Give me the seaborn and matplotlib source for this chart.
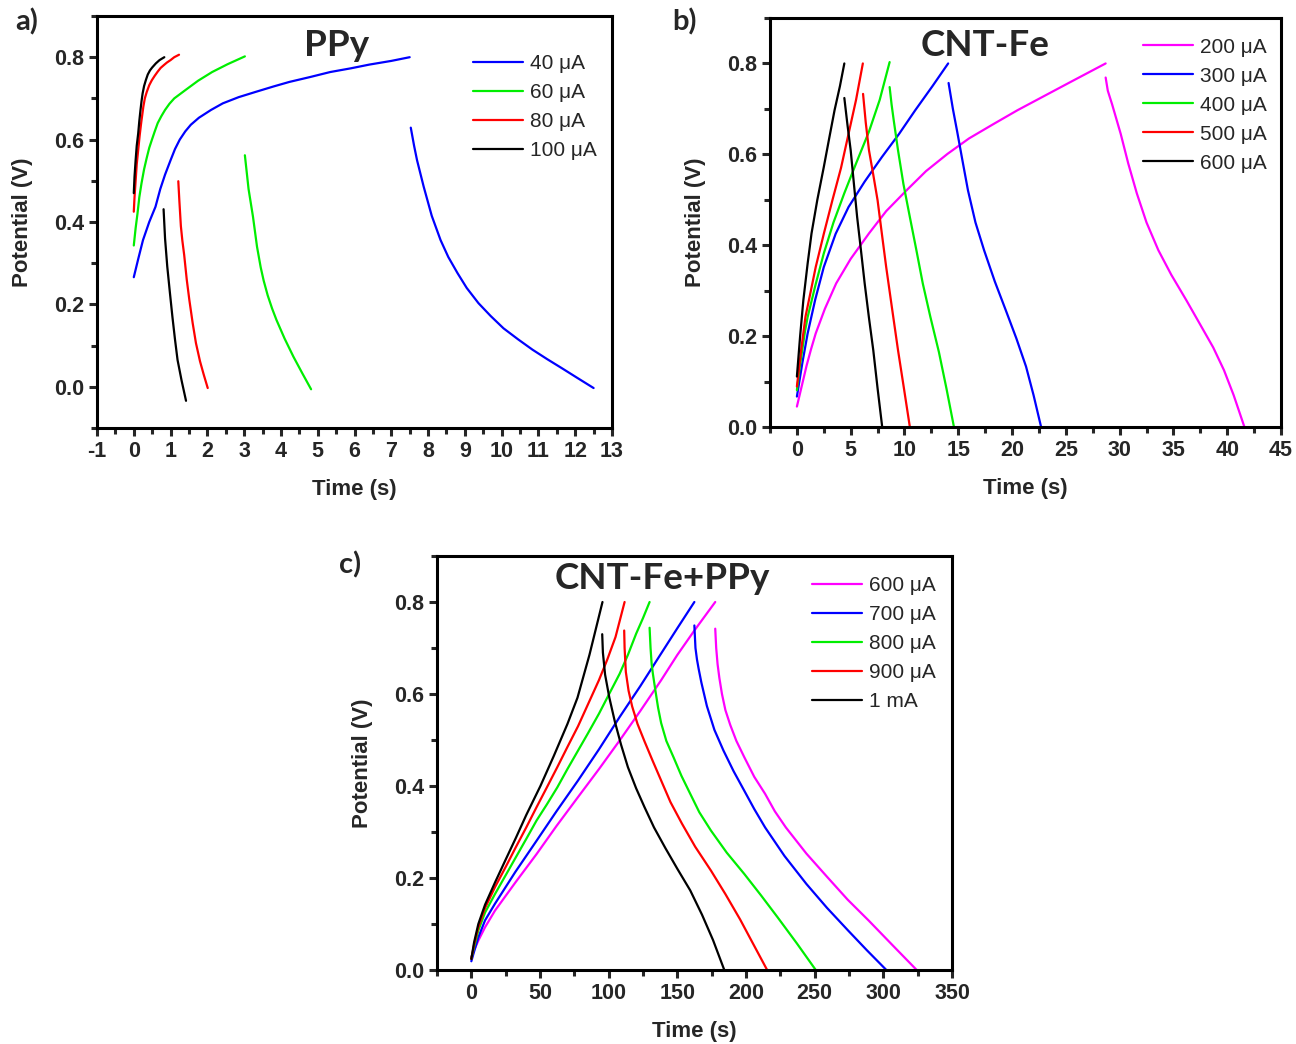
import matplotlib
matplotlib.use("Agg")
import numpy as np
import pandas as pd
import matplotlib.pyplot as plt
import seaborn as sns
from matplotlib.ticker import MultipleLocator, FormatStrFormatter

# ---------------- Panel a: PPy ----------------
A_LABELS = ["40 μA", "60 μA", "80 μA", "100 μA"]
A_COLORS = ["#0000FF", "#00EE00", "#FF0000", "#000000"]

A40_CH_T = [0.0, 0.12, 0.25, 0.42, 0.59, 0.72, 0.85, 1.0, 1.12, 1.25, 1.4, 1.55, 1.77, 2.1, 2.42, 2.85,
            3.32, 3.8, 4.23, 4.8, 5.34, 5.9, 6.4, 7.0, 7.5]
A40_CH_V = [0.266, 0.31, 0.356, 0.40, 0.437, 0.48, 0.515, 0.55, 0.577, 0.60, 0.62, 0.636, 0.653, 0.672,
            0.688, 0.703, 0.716, 0.729, 0.740, 0.752, 0.764, 0.773, 0.782, 0.791, 0.80]
A40_DC_T = [7.53, 7.62, 7.7, 7.88, 8.1, 8.34, 8.55, 8.8, 9.05, 9.37, 9.7, 10.05, 10.45, 10.84, 11.24,
            11.64, 12.05, 12.5]
A40_DC_V = [0.629, 0.585, 0.55, 0.486, 0.415, 0.356, 0.315, 0.276, 0.24, 0.203, 0.172, 0.142, 0.115,
            0.090, 0.067, 0.045, 0.022, -0.003]

A60_CH_T = [0.0, 0.05, 0.1, 0.15, 0.21, 0.28, 0.35, 0.42, 0.49, 0.57, 0.65, 0.75, 0.85, 0.97, 1.1,
            1.25, 1.40, 1.75, 2.13, 2.55, 3.02]
A60_CH_V = [0.343, 0.385, 0.42, 0.46, 0.494, 0.528, 0.555, 0.58, 0.599, 0.62, 0.64, 0.657, 0.672,
            0.687, 0.70, 0.71, 0.72, 0.743, 0.764, 0.783, 0.802]
A60_DC_T = [3.02, 3.12, 3.24, 3.35, 3.45, 3.53, 3.64, 3.76, 3.88, 4.1, 4.34, 4.58, 4.82]
A60_DC_V = [0.562, 0.48, 0.413, 0.34, 0.29, 0.258, 0.222, 0.19, 0.162, 0.117, 0.073, 0.033, -0.006]

A80_CH_T = [0.0, 0.02, 0.05, 0.08, 0.12, 0.16, 0.2, 0.26, 0.3, 0.35, 0.42, 0.49, 0.57, 0.65, 0.73,
            0.82, 0.9, 1.0, 1.1, 1.23]
A80_CH_V = [0.425, 0.46, 0.5, 0.54, 0.575, 0.61, 0.64, 0.68, 0.70, 0.715, 0.732, 0.744, 0.755, 0.765,
            0.774, 0.781, 0.787, 0.793, 0.80, 0.806]
A80_DC_T = [1.21, 1.24, 1.28, 1.32, 1.37, 1.44, 1.51, 1.6, 1.69, 1.8, 1.9, 2.01]
A80_DC_V = [0.499, 0.45, 0.39, 0.355, 0.32, 0.26, 0.211, 0.155, 0.106, 0.062, 0.03, -0.003]

A100_CH_T = [0.0, 0.02, 0.05, 0.08, 0.12, 0.15, 0.18, 0.21, 0.24, 0.28, 0.33, 0.38, 0.44, 0.5, 0.6,
             0.7, 0.83]
A100_CH_V = [0.47, 0.51, 0.55, 0.585, 0.615, 0.645, 0.67, 0.693, 0.712, 0.73, 0.745, 0.758, 0.768,
             0.775, 0.785, 0.793, 0.80]
A100_DC_T = [0.81, 0.85, 0.91, 0.98, 1.05, 1.12, 1.19, 1.3, 1.42]
A100_DC_V = [0.431, 0.36, 0.292, 0.23, 0.17, 0.115, 0.065, 0.015, -0.034]

# ---------------- Panel b: CNT-Fe ----------------
B_LABELS = ["200 μA", "300 μA", "400 μA", "500 μA", "600 μA"]
B_COLORS = ["#FF00FF", "#0000FF", "#00EE00", "#FF0000", "#000000"]

B200_CH_T = [0.0, 0.4, 0.9, 1.3, 1.75, 2.6, 3.65, 5.0, 6.7, 8.3, 10.2, 12.0, 14.0, 16.0, 18.3, 20.5,
             22.8, 25.5, 28.7]
B200_CH_V = [0.045, 0.085, 0.135, 0.17, 0.206, 0.26, 0.316, 0.37, 0.426, 0.475, 0.521, 0.563, 0.601,
             0.635, 0.667, 0.697, 0.726, 0.76, 0.80]
B200_DC_T = [28.7, 28.9, 29.3, 30.1, 30.8, 31.6, 32.5, 33.6, 34.8, 36.2, 37.5, 38.7, 39.7, 40.6, 41.6]
B200_DC_V = [0.769, 0.74, 0.71, 0.645, 0.58, 0.514, 0.45, 0.389, 0.335, 0.279, 0.225, 0.175, 0.125,
             0.07, 0.0]

B300_CH_T = [0.0, 0.5, 1.0, 1.7, 2.5, 3.6, 4.8, 6.3, 7.9, 9.5, 11.0, 12.6, 14.06]
B300_CH_V = [0.067, 0.14, 0.206, 0.28, 0.352, 0.425, 0.484, 0.54, 0.594, 0.645, 0.697, 0.75, 0.80]
B300_DC_T = [14.1, 14.5, 14.9, 15.4, 15.9, 16.6, 17.4, 18.4, 19.4, 20.4, 21.3, 22.0, 22.7]
B300_DC_V = [0.757, 0.70, 0.65, 0.585, 0.521, 0.45, 0.389, 0.32, 0.258, 0.195, 0.133, 0.07, 0.0]

B400_CH_T = [0.0, 0.25, 0.5, 0.75, 1.0, 1.7, 2.5, 3.4, 4.4, 5.5, 6.7, 7.7, 8.62]
B400_CH_V = [0.081, 0.13, 0.17, 0.21, 0.242, 0.31, 0.382, 0.45, 0.514, 0.58, 0.65, 0.72, 0.803]
B400_DC_T = [8.62, 8.8, 9.0, 9.4, 9.9, 10.5, 11.1, 11.7, 12.4, 13.2, 13.9, 14.6]
B400_DC_V = [0.748, 0.71, 0.675, 0.609, 0.535, 0.462, 0.39, 0.316, 0.243, 0.165, 0.085, 0.0]

B500_CH_T = [0.0, 0.4, 0.8, 1.3, 1.75, 2.5, 3.3, 4.1, 4.8, 5.5, 6.13]
B500_CH_V = [0.089, 0.17, 0.243, 0.30, 0.352, 0.425, 0.499, 0.57, 0.645, 0.72, 0.80]
B500_DC_T = [6.15, 6.4, 6.7, 7.1, 7.5, 7.9, 8.3, 8.85, 9.4, 9.95, 10.5]
B500_DC_V = [0.733, 0.67, 0.609, 0.555, 0.499, 0.425, 0.352, 0.26, 0.169, 0.085, 0.0]

B600_CH_T = [0.0, 0.3, 0.6, 1.0, 1.36, 1.9, 2.5, 3.0, 3.5, 4.0, 4.41]
B600_CH_V = [0.111, 0.2, 0.279, 0.36, 0.426, 0.5, 0.572, 0.635, 0.697, 0.75, 0.80]
B600_DC_T = [4.41, 4.7, 5.0, 5.3, 5.6, 5.95, 6.3, 6.7, 7.1, 7.5, 7.93]
B600_DC_V = [0.724, 0.665, 0.609, 0.535, 0.462, 0.39, 0.316, 0.24, 0.169, 0.085, 0.0]

# ---------------- Panel c: CNT-Fe+PPy ----------------
C_LABELS = ["600 μA", "700 μA", "800 μA", "900 μA", "1 mA"]
C_COLORS = ["#FF00FF", "#0000FF", "#00EE00", "#FF0000", "#000000"]

C600_CH_T = [0.0, 2.0, 5.1, 10.0, 17.2, 32.0, 47.5, 62.0, 77.7, 93.0, 108.0, 123.0, 138.2, 150.0,
             162.4, 177.6]
C600_CH_V = [0.028, 0.043, 0.064, 0.093, 0.129, 0.19, 0.252, 0.313, 0.376, 0.437, 0.499, 0.563, 0.63,
             0.685, 0.738, 0.80]
C600_DC_T = [177.6, 178.3, 179.3, 180.6, 182.5, 185.0, 188.5, 193.0, 198.7, 206.0, 213.9, 221.0, 229.0,
             244.0, 259.2, 274.0, 289.5, 307.0, 324.3]
C600_DC_V = [0.742, 0.70, 0.665, 0.635, 0.60, 0.565, 0.533, 0.498, 0.463, 0.42, 0.383, 0.345, 0.31,
             0.253, 0.202, 0.153, 0.107, 0.053, 0.0]

C700_CH_T = [0.0, 2.0, 5.1, 10.0, 17.2, 32.0, 47.5, 62.0, 77.7, 93.0, 108.0, 123.0, 138.2, 150.0, 162.4]
C700_CH_V = [0.019, 0.04, 0.071, 0.108, 0.144, 0.213, 0.281, 0.345, 0.412, 0.48, 0.55, 0.617, 0.688,
             0.743, 0.80]
C700_DC_T = [162.4, 163.2, 164.3, 165.5, 167.5, 171.5, 177.0, 183.6, 191.0, 198.7, 206.0, 213.9, 228.0,
             244.0, 259.0, 274.3, 288.0, 302.2]
C700_DC_V = [0.749, 0.70, 0.675, 0.655, 0.625, 0.574, 0.522, 0.477, 0.432, 0.39, 0.35, 0.31, 0.248,
             0.187, 0.135, 0.086, 0.043, 0.0]

C800_CH_T = [0.0, 2.0, 5.1, 10.0, 17.2, 25.0, 32.4, 40.0, 47.5, 55.0, 62.6, 70.0, 77.7, 85.0, 92.9,
             100.0, 108.0, 114.0, 120.0, 125.0, 129.8]
C800_CH_V = [0.025, 0.05, 0.086, 0.125, 0.165, 0.206, 0.245, 0.285, 0.325, 0.36, 0.397, 0.437, 0.477,
             0.515, 0.557, 0.598, 0.644, 0.685, 0.731, 0.765, 0.80]
C800_DC_T = [129.8, 130.5, 131.3, 132.2, 134.0, 136.0, 138.2, 142.0, 147.3, 153.0, 159.4, 166.0, 174.5,
             186.0, 198.7, 211.0, 222.9, 237.0, 250.8]
C800_DC_V = [0.744, 0.70, 0.665, 0.644, 0.608, 0.57, 0.537, 0.498, 0.462, 0.422, 0.383, 0.343, 0.303,
             0.255, 0.209, 0.162, 0.115, 0.058, 0.0]

C900_CH_T = [0.0, 2.0, 5.1, 10.0, 17.2, 25.0, 32.4, 40.0, 47.5, 55.0, 62.6, 70.0, 77.7, 85.0, 92.9,
             99.0, 105.0, 111.6]
C900_CH_V = [0.024, 0.055, 0.093, 0.135, 0.18, 0.224, 0.267, 0.31, 0.354, 0.397, 0.441, 0.485, 0.53,
             0.578, 0.63, 0.675, 0.724, 0.80]
C900_DC_T = [111.3, 111.6, 112.5, 114.5, 117.1, 121.0, 126.1, 132.0, 138.2, 145.0, 153.4, 163.0, 174.5,
             185.0, 195.7, 205.0, 215.4]
C900_DC_V = [0.738, 0.70, 0.648, 0.607, 0.573, 0.535, 0.497, 0.455, 0.412, 0.365, 0.318, 0.268, 0.216,
             0.165, 0.11, 0.058, 0.0]

C1000_CH_T = [0.0, 2.0, 5.1, 10.0, 17.2, 25.0, 32.4, 40.0, 50.3, 60.0, 70.0, 77.3, 86.0, 95.5]
C1000_CH_V = [0.024, 0.06, 0.10, 0.142, 0.19, 0.24, 0.287, 0.337, 0.40, 0.465, 0.535, 0.592, 0.685, 0.80]
C1000_DC_T = [95.3, 95.8, 97.4, 100.5, 104.5, 109.0, 114.0, 120.0, 126.1, 133.0, 141.3, 150.0, 159.4,
              168.0, 176.0, 184.2]
C1000_DC_V = [0.73, 0.69, 0.642, 0.592, 0.54, 0.49, 0.441, 0.395, 0.354, 0.31, 0.265, 0.22, 0.173,
              0.12, 0.065, 0.0]


def build(curves):
    rows = []
    for label, seg, ts, vs in curves:
        for t, v in zip(ts, vs):
            rows.append({"Time": t, "Potential": v, "current": label, "seg": seg})
    return pd.DataFrame(rows)


df_a = build([
    (A_LABELS[0], "a40c", A40_CH_T, A40_CH_V), (A_LABELS[0], "a40d", A40_DC_T, A40_DC_V),
    (A_LABELS[1], "a60c", A60_CH_T, A60_CH_V), (A_LABELS[1], "a60d", A60_DC_T, A60_DC_V),
    (A_LABELS[2], "a80c", A80_CH_T, A80_CH_V), (A_LABELS[2], "a80d", A80_DC_T, A80_DC_V),
    (A_LABELS[3], "a100c", A100_CH_T, A100_CH_V), (A_LABELS[3], "a100d", A100_DC_T, A100_DC_V),
])
df_b = build([
    (B_LABELS[0], "b200c", B200_CH_T, B200_CH_V), (B_LABELS[0], "b200d", B200_DC_T, B200_DC_V),
    (B_LABELS[1], "b300c", B300_CH_T, B300_CH_V), (B_LABELS[1], "b300d", B300_DC_T, B300_DC_V),
    (B_LABELS[2], "b400c", B400_CH_T, B400_CH_V), (B_LABELS[2], "b400d", B400_DC_T, B400_DC_V),
    (B_LABELS[3], "b500c", B500_CH_T, B500_CH_V), (B_LABELS[3], "b500d", B500_DC_T, B500_DC_V),
    (B_LABELS[4], "b600c", B600_CH_T, B600_CH_V), (B_LABELS[4], "b600d", B600_DC_T, B600_DC_V),
])
df_c = build([
    (C_LABELS[0], "c600c", C600_CH_T, C600_CH_V), (C_LABELS[0], "c600d", C600_DC_T, C600_DC_V),
    (C_LABELS[1], "c700c", C700_CH_T, C700_CH_V), (C_LABELS[1], "c700d", C700_DC_T, C700_DC_V),
    (C_LABELS[2], "c800c", C800_CH_T, C800_CH_V), (C_LABELS[2], "c800d", C800_DC_T, C800_DC_V),
    (C_LABELS[3], "c900c", C900_CH_T, C900_CH_V), (C_LABELS[3], "c900d", C900_DC_T, C900_DC_V),
    (C_LABELS[4], "c1000c", C1000_CH_T, C1000_CH_V), (C_LABELS[4], "c1000d", C1000_DC_T, C1000_DC_V),
])

sns.set_theme(style="ticks")
plt.rcParams["font.family"] = ["Liberation Sans", "DejaVu Sans"]
plt.rcParams["axes.linewidth"] = 2.2
plt.rcParams["axes.unicode_minus"] = False

W, H = 1296, 1044
fig = plt.figure(figsize=(W / 100, H / 100), dpi=100)


def px_axes(left, top, right, bottom):
    return fig.add_axes([left / W, 1 - bottom / H, (right - left) / W, (bottom - top) / H])


ax_a = px_axes(97, 16, 612, 428)
ax_b = px_axes(770, 18, 1281, 427)
ax_c = px_axes(437, 556, 952, 970)

TITLE_FONT = ["Lato", "DejaVu Sans"]


def style(ax, df, labels, colors, xlim, ylim, xmaj, xmin, title, tpos, lpos):
    sns.lineplot(data=df, x="Time", y="Potential", hue="current", hue_order=labels,
                 palette=dict(zip(labels, colors)), units="seg", estimator=None,
                 sort=False, lw=1.6, ax=ax)
    ax.set_xlim(*xlim)
    ax.set_ylim(*ylim)
    ax.xaxis.set_major_locator(MultipleLocator(xmaj))
    ax.xaxis.set_minor_locator(MultipleLocator(xmin))
    ax.yaxis.set_major_locator(MultipleLocator(0.2))
    ax.yaxis.set_minor_locator(MultipleLocator(0.1))
    ax.yaxis.set_major_formatter(FormatStrFormatter("%.1f"))
    ax.tick_params(which="major", direction="out", length=6, width=2.2, labelsize=15.5)
    ax.tick_params(which="minor", direction="out", length=4, width=2.2)
    for lab in ax.get_xticklabels() + ax.get_yticklabels():
        lab.set_fontweight("bold")
    for s in ax.spines.values():
        s.set_visible(True)
        s.set_linewidth(2.2)
        s.set_color("black")
    ax.set_xlabel("Time (s)", fontsize=16, fontweight="bold", labelpad=12)
    ax.set_ylabel("Potential (V)", fontsize=16, fontweight="bold", labelpad=15)
    ax.text(tpos[0], tpos[1], title, transform=ax.transAxes, ha="center", va="center",
            fontsize=26.5, fontweight="bold", family=TITLE_FONT)
    handles, _ = ax.get_legend_handles_labels()
    for h in handles:
        h.set_linewidth(1.6)
    ax.legend(handles, labels, loc="upper left", bbox_to_anchor=lpos, frameon=False,
              fontsize=15, handlelength=2.4, handletextpad=0.35, labelspacing=0.48,
              borderpad=0, borderaxespad=0)


style(ax_a, df_a, A_LABELS, A_COLORS, (-1, 13), (-0.1, 0.9), 1, 0.5, "PPy", (0.466, 0.928), (0.730, 0.907))
style(ax_b, df_b, B_LABELS, B_COLORS, (-2.5, 45), (0.0, 0.9), 5, 2.5, "CNT-Fe", (0.42, 0.932), (0.730, 0.952))
style(ax_c, df_c, C_LABELS, C_COLORS, (-25, 350), (0.0, 0.9), 50, 25, "CNT-Fe+PPy", (0.437, 0.945), (0.728, 0.952))

fig.text(27 / W, 1 - 22 / H, "a)", ha="center", va="center", fontsize=21, fontweight="bold", family=TITLE_FONT)
fig.text(684 / W, 1 - 22 / H, "b)", ha="center", va="center", fontsize=21, fontweight="bold", family=TITLE_FONT)
fig.text(350 / W, 1 - 565 / H, "c)", ha="center", va="center", fontsize=21, fontweight="bold", family=TITLE_FONT)

fig.savefig("out.png", dpi=100, facecolor="white")
